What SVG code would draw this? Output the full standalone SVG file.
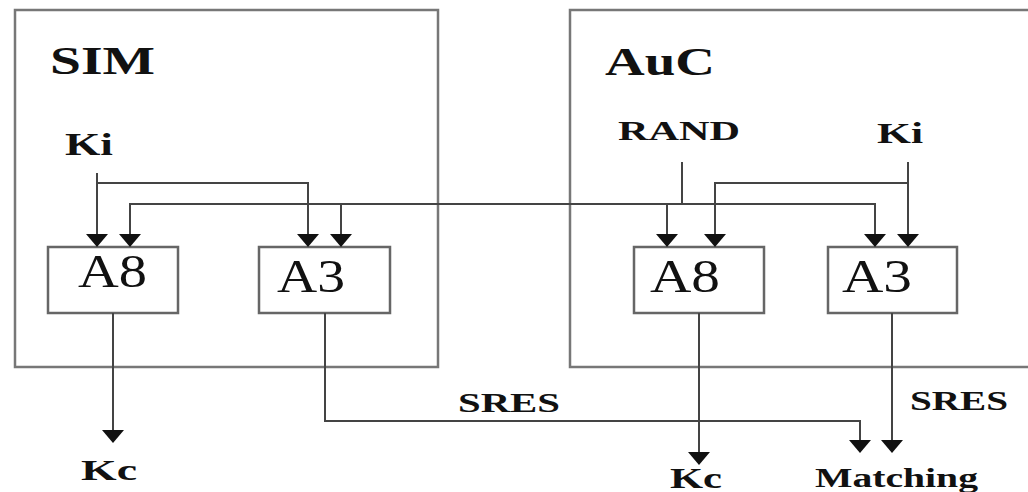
<svg xmlns="http://www.w3.org/2000/svg" width="1028" height="492" viewBox="0 0 1028 492">
<style>
.frame{fill:none;stroke:#777;stroke-width:2.5}
.blk{fill:#fff;stroke:#666;stroke-width:2.5}
.c{fill:none;stroke:#444;stroke-width:2}
.lb{font-family:"Liberation Serif",serif;font-weight:bold;fill:#111}
.bt{font-family:"Liberation Serif",serif;fill:#111}
</style>
<defs>
<marker id="ah" viewBox="0 0 13 22" refX="7" refY="11" markerWidth="13" markerHeight="22" markerUnits="userSpaceOnUse" orient="auto">
<path d="M0,0 L13,11 L0,22 Z" fill="#111"/>
</marker>
</defs>
<rect width="1028" height="492" fill="#fff"/>
<g id="sim">
<rect class="frame" x="15" y="10" width="423" height="357"/>
<text class="lb" x="50" y="74" font-size="40" textLength="105" lengthAdjust="spacingAndGlyphs">SIM</text>
</g>
<g id="auc">
<rect class="frame" x="570" y="10" width="470" height="357"/>
<text class="lb" x="605" y="75" font-size="40" textLength="110" lengthAdjust="spacingAndGlyphs">AuC</text>
</g>
<g id="sim-ki"><text class="lb" x="65" y="155" font-size="32" textLength="48" lengthAdjust="spacingAndGlyphs">Ki</text></g>
<g id="rand"><text class="lb" x="618" y="140" font-size="27" textLength="122" lengthAdjust="spacingAndGlyphs">RAND</text></g>
<g id="auc-ki"><text class="lb" x="877" y="143" font-size="30" textLength="46" lengthAdjust="spacingAndGlyphs">Ki</text></g>
<g id="sim-a8">
<rect class="blk" x="48" y="247" width="130" height="66"/>
<text class="bt" x="78" y="287" font-size="46" textLength="69" lengthAdjust="spacingAndGlyphs">A8</text>
</g>
<g id="sim-a3">
<rect class="blk" x="259" y="247" width="131" height="66"/>
<text class="bt" x="277" y="292" font-size="46" textLength="68" lengthAdjust="spacingAndGlyphs">A3</text>
</g>
<g id="auc-a8">
<rect class="blk" x="634" y="247" width="130" height="66"/>
<text class="bt" x="650" y="292" font-size="46" textLength="70" lengthAdjust="spacingAndGlyphs">A8</text>
</g>
<g id="auc-a3">
<rect class="blk" x="828" y="247" width="129" height="66"/>
<text class="bt" x="842" y="292" font-size="46" textLength="70" lengthAdjust="spacingAndGlyphs">A3</text>
</g>
<g id="sim-kc"><text class="lb" x="81" y="480" font-size="30" textLength="56" lengthAdjust="spacingAndGlyphs">Kc</text></g>
<g id="sres1"><text class="lb" x="458" y="412" font-size="28" textLength="102" lengthAdjust="spacingAndGlyphs">SRES</text></g>
<g id="auc-kc"><text class="lb" x="670" y="488" font-size="30" textLength="52" lengthAdjust="spacingAndGlyphs">Kc</text></g>
<g id="sres2"><text class="lb" x="910" y="410" font-size="28" textLength="98" lengthAdjust="spacingAndGlyphs">SRES</text></g>
<g id="matching"><text class="lb" x="815" y="487" font-size="28" textLength="163" lengthAdjust="spacingAndGlyphs">Matching</text></g>
<g id="connectors">
<path class="c" d="M97,173 V241" marker-end="url(#ah)"/>
<path class="c" d="M97,183 H308 V241" marker-end="url(#ah)"/>
<path class="c" d="M682,162 V204"/>
<path class="c" d="M875,241 V204 H130 V241" marker-end="url(#ah)"/>
<path class="c" d="M875,204 V241" marker-end="url(#ah)"/>
<path class="c" d="M341,204 V241" marker-end="url(#ah)"/>
<path class="c" d="M667,204 V241" marker-end="url(#ah)"/>
<path class="c" d="M908,162 V241" marker-end="url(#ah)"/>
<path class="c" d="M908,183 H715 V241" marker-end="url(#ah)"/>
<path class="c" d="M113,313 V437" marker-end="url(#ah)"/>
<path class="c" d="M325,313 V421 H860 V447" marker-end="url(#ah)"/>
<path class="c" d="M699,313 V459" marker-end="url(#ah)"/>
<path class="c" d="M892,313 V447" marker-end="url(#ah)"/>
</g>
</svg>
